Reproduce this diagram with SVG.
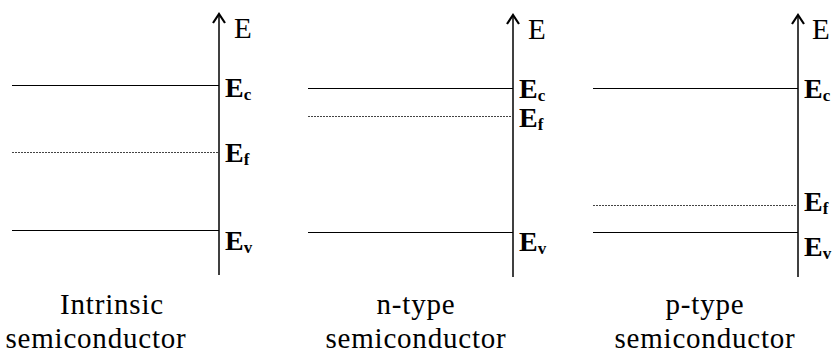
<svg xmlns="http://www.w3.org/2000/svg" width="832" height="355" viewBox="0 0 832 355">
<style>
.axis{stroke:#000;stroke-width:1.5;fill:none}
.head{stroke:#000;stroke-width:2.2;fill:none}
.lvl{stroke:#000;stroke-width:1;fill:none}
.fermi{stroke:#444;stroke-width:1;stroke-dasharray:2 1;fill:none}
.lbl{font-family:"Liberation Serif","Times New Roman",serif;font-size:28px;font-weight:bold;fill:#000}
.sub{font-size:17px}
.ax{font-family:"Liberation Serif","Times New Roman",serif;font-size:29px;fill:#000}
.cap{font-family:"Liberation Serif","Times New Roman",serif;font-size:29px;letter-spacing:0.8px;fill:#000;text-anchor:middle}
</style>
<g id="connectors">
<line class="axis" x1="219" y1="275" x2="219" y2="15"/>
<path d="M213,23 L219,14 L225,23" class="head"/>
<line class="axis" x1="513" y1="277" x2="513" y2="16"/>
<path d="M507,24 L513,15 L519,24" class="head"/>
<line class="axis" x1="798" y1="277" x2="798" y2="16"/>
<path d="M792,24 L798,15 L804,24" class="head"/>
</g>
<g id="intrinsic">
<line class="lvl" x1="12" y1="85.5" x2="219" y2="85.5"/>
<line class="fermi" x1="12" y1="152.5" x2="219" y2="152.5"/>
<line class="lvl" x1="12" y1="230.5" x2="219" y2="230.5"/>
<text class="ax" x="234" y="38">E</text>
<text class="lbl" x="225" y="97">E<tspan class="sub" dy="3">c</tspan></text>
<text class="lbl" x="225" y="162">E<tspan class="sub" dy="3">f</tspan></text>
<text class="lbl" x="225" y="250">E<tspan class="sub" dy="3">v</tspan></text>
<text class="cap" x="112" y="314">Intrinsic</text>
<text class="cap" x="96" y="348">semiconductor</text>
</g>
<g id="ntype">
<line class="lvl" x1="308" y1="88.5" x2="513" y2="88.5"/>
<line class="fermi" x1="308" y1="116.5" x2="513" y2="116.5"/>
<line class="lvl" x1="308" y1="232.5" x2="513" y2="232.5"/>
<text class="ax" x="528" y="39">E</text>
<text class="lbl" x="519" y="98">E<tspan class="sub" dy="3">c</tspan></text>
<text class="lbl" x="519" y="127">E<tspan class="sub" dy="3">f</tspan></text>
<text class="lbl" x="519" y="251">E<tspan class="sub" dy="3">v</tspan></text>
<text class="cap" x="416" y="314">n-type</text>
<text class="cap" x="416" y="348">semiconductor</text>
</g>
<g id="ptype">
<line class="lvl" x1="593" y1="88.5" x2="798" y2="88.5"/>
<line class="fermi" x1="593" y1="205.5" x2="798" y2="205.5"/>
<line class="lvl" x1="593" y1="232.5" x2="798" y2="232.5"/>
<text class="ax" x="812" y="39">E</text>
<text class="lbl" x="804" y="98">E<tspan class="sub" dy="3">c</tspan></text>
<text class="lbl" x="804" y="211">E<tspan class="sub" dy="3">f</tspan></text>
<text class="lbl" x="804" y="256">E<tspan class="sub" dy="3">v</tspan></text>
<text class="cap" x="705" y="314">p-type</text>
<text class="cap" x="705" y="348">semiconductor</text>
</g>
</svg>
